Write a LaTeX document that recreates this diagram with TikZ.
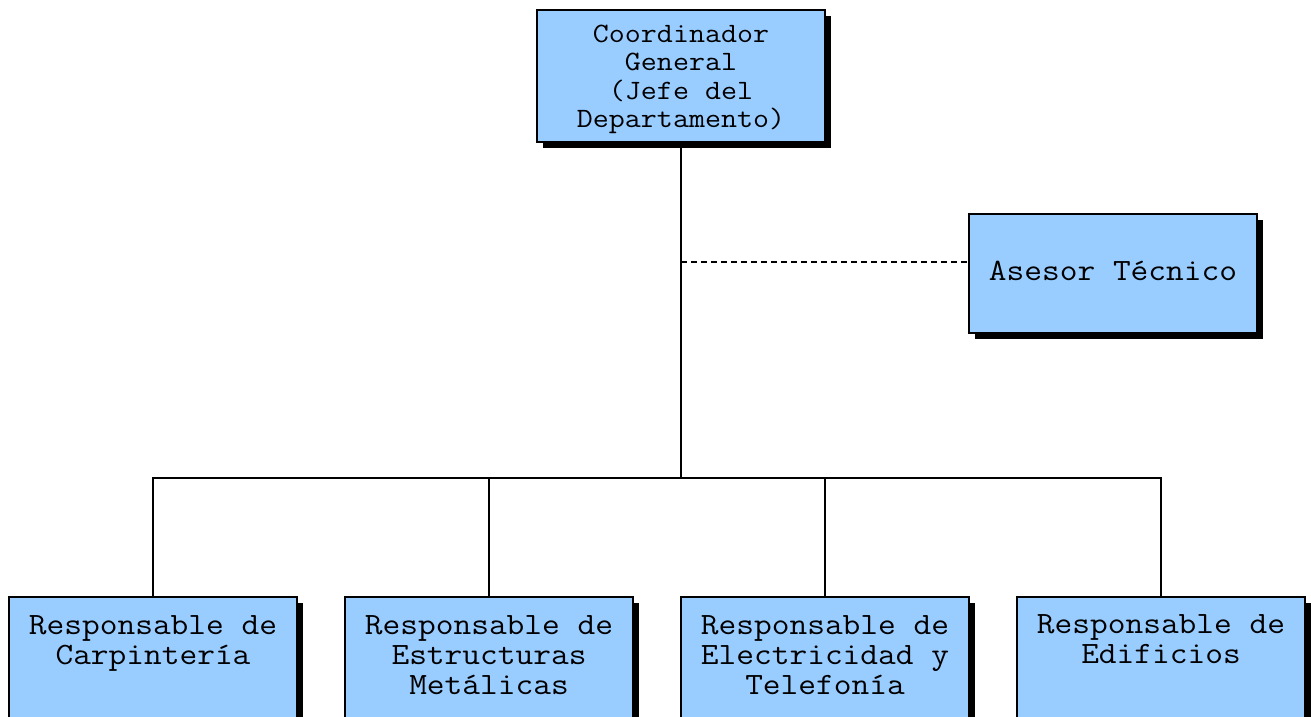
\documentclass[tikz,border=0pt]{standalone}
\usepackage{fontspec}
\newfontfamily\cour[FakeStretch=1.11]{Latin Modern Mono}
\usetikzlibrary{shadows}
\definecolor{boxblue}{HTML}{99CCFF}
\begin{document}
\begin{tikzpicture}[x=1pt,y=-1pt,
  box/.style={draw=black, line width=1.5pt, fill=boxblue, minimum width=288pt, minimum height=132pt, inner sep=0pt,
    drop shadow={shadow xshift=6pt, shadow yshift=-6pt, opacity=1, fill=black}},
  lbl/.style={font=\cour\fontsize{31}{30}\selectfont, align=center, inner sep=0pt},
  toplbl/.style={font=\cour\fontsize{28}{28.5}\selectfont, align=center, inner sep=0pt},
  conn/.style={line width=1.5pt},
  dconn/.style={line width=1.5pt, dash pattern=on 6pt off 4pt}]
\useasboundingbox (0,0) rectangle (1311,717);
\node[box] (top) at (681,76) {};
\node[box, minimum height=119pt] (ase) at (1113,273.5) {};
\node[box] (c1) at (153,663) {};
\node[box] (c2) at (489,663) {};
\node[box] (c3) at (825,663) {};
\node[box] (c4) at (1161,663) {};
\node[toplbl] (ttop) at (681,79.5) {Coordinador\\General\\(Jefe del\\Departamento)};
\node[lbl] (tase) at (1113,271) {Asesor Técnico};
\node[lbl] (t1) at (153,643) {Responsable de\\Carpintería};
\node[lbl] (t2) at (489,655) {Responsable de\\Estructuras\\Metálicas};
\node[lbl] (t3) at (825,655) {Responsable de\\Electricidad y\\Telefonía};
\node[lbl] (t4) at (1161,639) {Responsable de\\Edificios};
\coordinate (h) at (681,478);
\coordinate (d) at (681,262);
\draw[conn] (top.south) -- (h);
\draw[conn] (c1.north) |- (h) -| (c4.north);
\draw[conn] (c2.north) -- (c2.north |- h);
\draw[conn] (c3.north) -- (c3.north |- h);
\draw[dconn] (d) -- (ase.west |- d);
\end{tikzpicture}
\end{document}
